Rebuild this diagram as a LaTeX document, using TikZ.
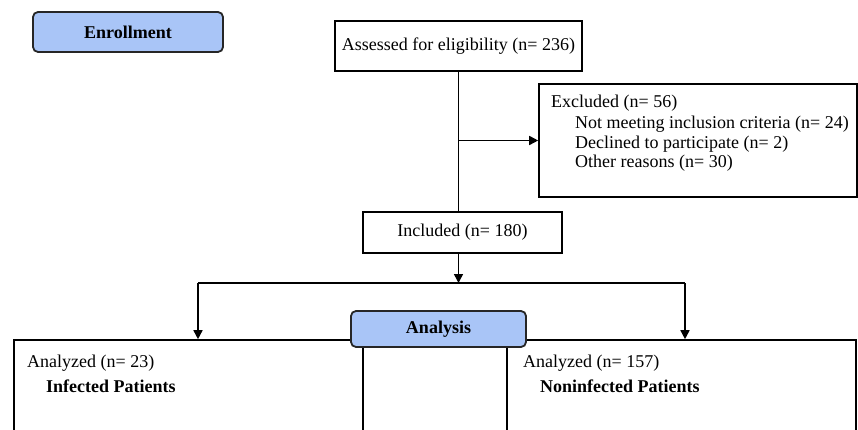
\documentclass[tikz,border=0pt]{standalone}
\usepackage{fontspec}
\setmainfont{Liberation Serif}
\usetikzlibrary{arrows.meta}
\definecolor{boxblue}{RGB}{169,197,247}
\begin{document}
\begin{tikzpicture}[x=1pt,y=-1pt,
  box/.style={draw=black, line width=1.6pt, rectangle, inner sep=0pt, fill=white},
  phase/.style={draw=black!85, line width=1.8pt, fill=boxblue, rounded corners=5pt, inner sep=0pt, font=\fontsize{18}{20}\selectfont\bfseries},
  txt/.style={anchor=base west, inner sep=0pt, font=\fontsize{18}{20}\selectfont},
  btxt/.style={anchor=base west, inner sep=0pt, font=\fontsize{18}{20}\selectfont\bfseries},
  conn/.style={line width=1.6pt},
  arr/.style={conn, -{Triangle[length=9pt,width=9pt]}},
]
\useasboundingbox (0,0) rectangle (858,430);
\clip (0,0) rectangle (858,430);

% boxes
\node[phase, minimum width=190pt, minimum height=40pt] (enroll) at (128,32) {Enrollment};
\node[box, minimum width=247pt, minimum height=50pt, font=\fontsize{18}{20}\selectfont] (assess) at (458.5,46) {Assessed for eligibility (n= 236)};
\node[box, minimum width=318pt, minimum height=113pt] (excl) at (698,140.5) {};
\node[box, minimum width=199pt, minimum height=41pt, font=\fontsize{18}{20}\selectfont] (incl) at (462.5,232.5) {Included (n= 180)};
\node[box, minimum width=349pt, minimum height=105pt] (leftbox) at (188.5,392.5) {};
\node[box, minimum width=349pt, minimum height=105pt] (rightbox) at (681.5,392.5) {};
\node[phase, minimum width=175pt, minimum height=36pt] (analysis) at (438.5,329) {Analysis};

% texts
\node[txt] (ex0) at (551,108) {Excluded (n= 56)};
\node[txt] (ex1) at (575,129) {Not meeting inclusion criteria (n= 24)};
\node[txt] (ex2) at (575,149) {Declined to participate (n= 2)};
\node[txt] (ex3) at (575,168) {Other reasons (n= 30)};
\node[txt] (la) at (27,367) {Analyzed (n= 23)};
\node[btxt] (lb) at (46,392) {Infected Patients};
\node[txt] (ra) at (523,367) {Analyzed (n= 157)};
\node[btxt] (rb) at (540,392) {Noninfected Patients};

% connectors
\coordinate (split) at (458.5,283);
\coordinate (lsplit) at (198,283);
\coordinate (rsplit) at (685,283);
\draw[conn] (assess.south) -- (assess.south |- incl.north);
\draw[arr] (assess.south |- excl.west) -- (excl.west);
\draw[arr] (assess.south |- incl.south) -- (split);
\draw[conn] (lsplit) -- (rsplit);
\draw[arr] (lsplit) -- (lsplit |- leftbox.north);
\draw[arr] (rsplit) -- (rsplit |- rightbox.north);
\end{tikzpicture}
\end{document}
